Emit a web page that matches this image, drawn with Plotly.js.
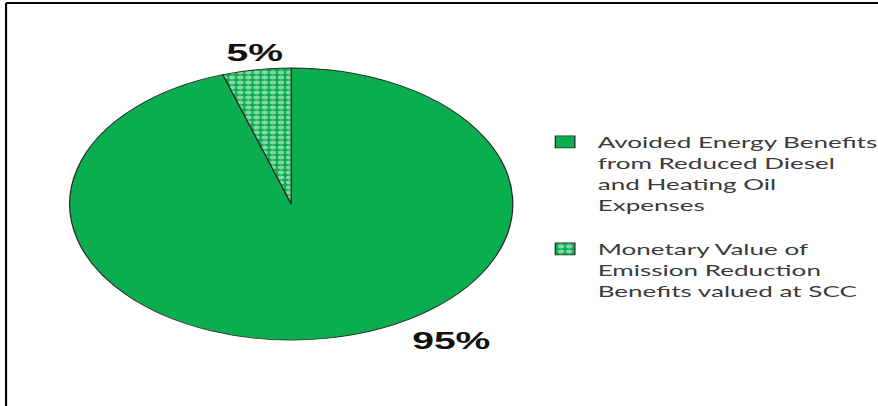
<!DOCTYPE html>
<html>
<head>
<meta charset="utf-8">
<script src="https://cdn.plot.ly/plotly-3.0.1.min.js"></script>
<style>
  html, body { margin: 0; padding: 0; background: #fff; overflow: hidden; }
  #wrap { width: 878px; height: 406px; overflow: hidden; }
  #chart { width: 539px; height: 406px; transform: scaleX(1.629); transform-origin: 0 0; }
</style>
</head>
<body>
<div id="wrap"><div id="chart"></div></div>
<script>
// Data
const categories = [
  "Avoided Energy Benefits<br>from Reduced Diesel<br>and Heating Oil<br>Expenses<br> ",
  "Monetary Value of<br>Emission Reduction<br>Benefits valued at SCC"
];
const shares = [95, 5];
const pctLabels = ["95%", "5%"];

const green = "#0aae4f";

const trace = {
  type: "pie",
  labels: categories,
  values: shares,
  sort: false,
  direction: "clockwise",
  rotation: 0,
  textinfo: "none",
  hoverinfo: "label+percent",
  domain: { x: [0.0794, 0.584], y: [0.1626, 0.8325] },
  marker: {
    colors: [green, green],
    line: { color: "#2a2a2a", width: 0.8 },
    pattern: {
      shape: ["", "."],
      bgcolor: [green, green],
      fgcolor: ["#ffffff", "#ffffff"],
      size: 5,
      solidity: 0.5,
      fillmode: "overlay"
    }
  }
};

const layout = {
  width: 539,
  height: 406,
  margin: { l: 0, r: 0, t: 0, b: 0, autoexpand: false },
  paper_bgcolor: "#ffffff",
  showlegend: true,
  legend: {
    x: 0.6065, xanchor: "left",
    y: 0.692, yanchor: "top",
    valign: "top",
    itemwidth: 30,
    font: { family: "Lato, 'Open Sans', sans-serif", size: 16, color: "#3a3a3a" },
    bgcolor: "rgba(0,0,0,0)"
  },
  annotations: [
    { xref: "paper", yref: "paper", x: 0.5148, y: 1 - 340/406, xanchor: "center", yanchor: "middle",
      text: pctLabels[0], showarrow: false,
      font: { family: "Liberation Sans, Arial, sans-serif", size: 24, color: "#111", weight: "bold" } },
    { xref: "paper", yref: "paper", x: 0.2904, y: 1 - 52/406, xanchor: "center", yanchor: "middle",
      text: pctLabels[1], showarrow: false,
      font: { family: "Liberation Sans, Arial, sans-serif", size: 24, color: "#111", weight: "bold" } }
  ],
  shapes: [
    { type: "line", xref: "paper", yref: "paper", x0: 0.0069, x1: 0.0069, y0: 0, y1: 0.9926,
      line: { color: "#000", width: 1.3 } },
    { type: "line", xref: "paper", yref: "paper", x0: 0.0069, x1: 1, y0: 0.9926, y1: 0.9926,
      line: { color: "#000", width: 2 } }
  ]
};

Plotly.newPlot("chart", [trace], layout, { displayModeBar: false, staticPlot: true });
</script>
</body>
</html>
